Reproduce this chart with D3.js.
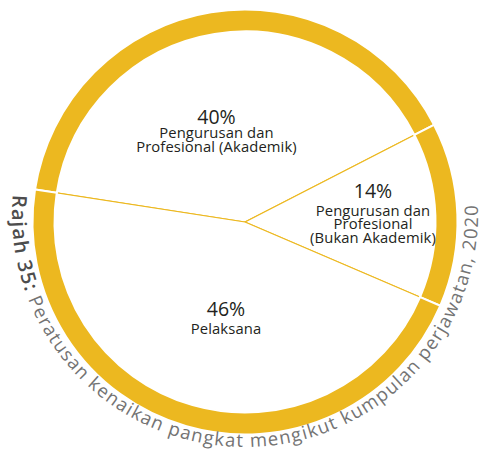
<!DOCTYPE html>
<html>
<head>
<meta charset="utf-8">
<script src="https://cdn.jsdelivr.net/npm/d3@7"></script>
<style>
  html, body { margin: 0; padding: 0; background: #fff; }
  svg { display: block; }
</style>
</head>
<body>
<svg id="chart" width="479" height="456"></svg>
<script>
// ---- data ----
const categories = ["Pengurusan dan Profesional (Akademik)", "Pengurusan dan Profesional (Bukan Akademik)", "Pelaksana"];
const values = [40, 14, 46];
const percentLabels = ["40%", "14%", "46%"];
const labelLines = [
  ["Pengurusan dan", "Profesional (Akademik)"],
  ["Pengurusan dan", "Profesional", "(Bukan Akademik)"],
  ["Pelaksana"]
];
const titleBold = "Rajah 35:";
const titleRest = " Peratusan kenaikan pangkat mengikut kumpulan perjawatan, 2020";

// ---- layout ----
const cx = 245, cy = 222;
const rInner = 191.5, rOuter = 211.5;
const gold = "#ECB820";
const startDeg = -81.2;
const labelOffsets = [[-28.5, -98, 14], [128, -24, 17.5], [-19, 94, 18]]; // dx, dy (pct baseline), gap to first sub-line
const textFont = "'Open Sans', sans-serif";

const svg = d3.select("#chart");
const g = svg.append("g").attr("transform", `translate(${cx},${cy})`);

const pie = d3.pie().sort(null).value(d => d)
  .startAngle(startDeg * Math.PI / 180)
  .endAngle(startDeg * Math.PI / 180 + 2 * Math.PI);
const arcs = pie(values);

// inner white slices with thin gold dividers
const innerArc = d3.arc().innerRadius(0).outerRadius(rInner);
g.selectAll("path.slice").data(arcs).join("path")
  .attr("class", "slice")
  .attr("d", innerArc)
  .attr("fill", "#fff")
  .attr("stroke", gold)
  .attr("stroke-width", 1.1);

// outer gold ring segments separated by white lines
const ringArc = d3.arc().innerRadius(rInner - 1).outerRadius(rOuter + 1);
g.selectAll("path.ring").data(arcs).join("path")
  .attr("class", "ring")
  .attr("d", ringArc)
  .attr("fill", gold)
  .attr("stroke", "#fff")
  .attr("stroke-width", 2);

// labels
arcs.forEach((a, i) => {
  const [dx, dy, gap] = labelOffsets[i];
  const t = g.append("text")
    .attr("text-anchor", "middle")
    .attr("font-family", textFont)
    .attr("fill", "#231f20");
  t.append("tspan").attr("x", dx).attr("y", dy)
    .attr("font-size", 19.5).text(percentLabels[i]);
  labelLines[i].forEach((line, j) => {
    t.append("tspan").attr("x", dx).attr("y", dy + gap + j * 13.5)
      .attr("font-size", 14.8).attr("letter-spacing", 0.1).text(line);
  });
});

// curved caption
const tcx = 245, tcy = 214, tr = 233;
const a0 = 274.7 * Math.PI / 180, a1 = 86.6 * Math.PI / 180;
const p0 = [tcx + tr * Math.sin(a0), tcy - tr * Math.cos(a0)];
const p1 = [tcx + tr * Math.sin(a1), tcy - tr * Math.cos(a1)];
const pathLen = tr * (a0 - a1);
svg.append("defs").append("path")
  .attr("id", "capPath")
  .attr("d", `M${p0[0]},${p0[1]} A${tr},${tr} 0 1 0 ${p1[0]},${p1[1]}`);

const cap = svg.append("text").attr("font-family", textFont);
const tp = cap.append("textPath").attr("href", "#capPath").attr("startOffset", 0);
const sb = tp.append("tspan").attr("font-size", 20).attr("font-weight", 600).attr("fill", "#4d4d4d").text(titleBold);
const sr = tp.append("tspan").attr("font-size", 18.5).attr("fill", "#737373").text(titleRest);

// fit the caption to the arc length via letter spacing
const boldLen = sb.node().getComputedTextLength();
const restLen = sr.node().getComputedTextLength();
const boldTarget = 100;
const restTarget = pathLen - boldTarget - 4;
sb.attr("letter-spacing", Math.max(0, (boldTarget - boldLen) / titleBold.length));
sr.attr("letter-spacing", (restTarget - restLen) / titleRest.length);
</script>
</body>
</html>
